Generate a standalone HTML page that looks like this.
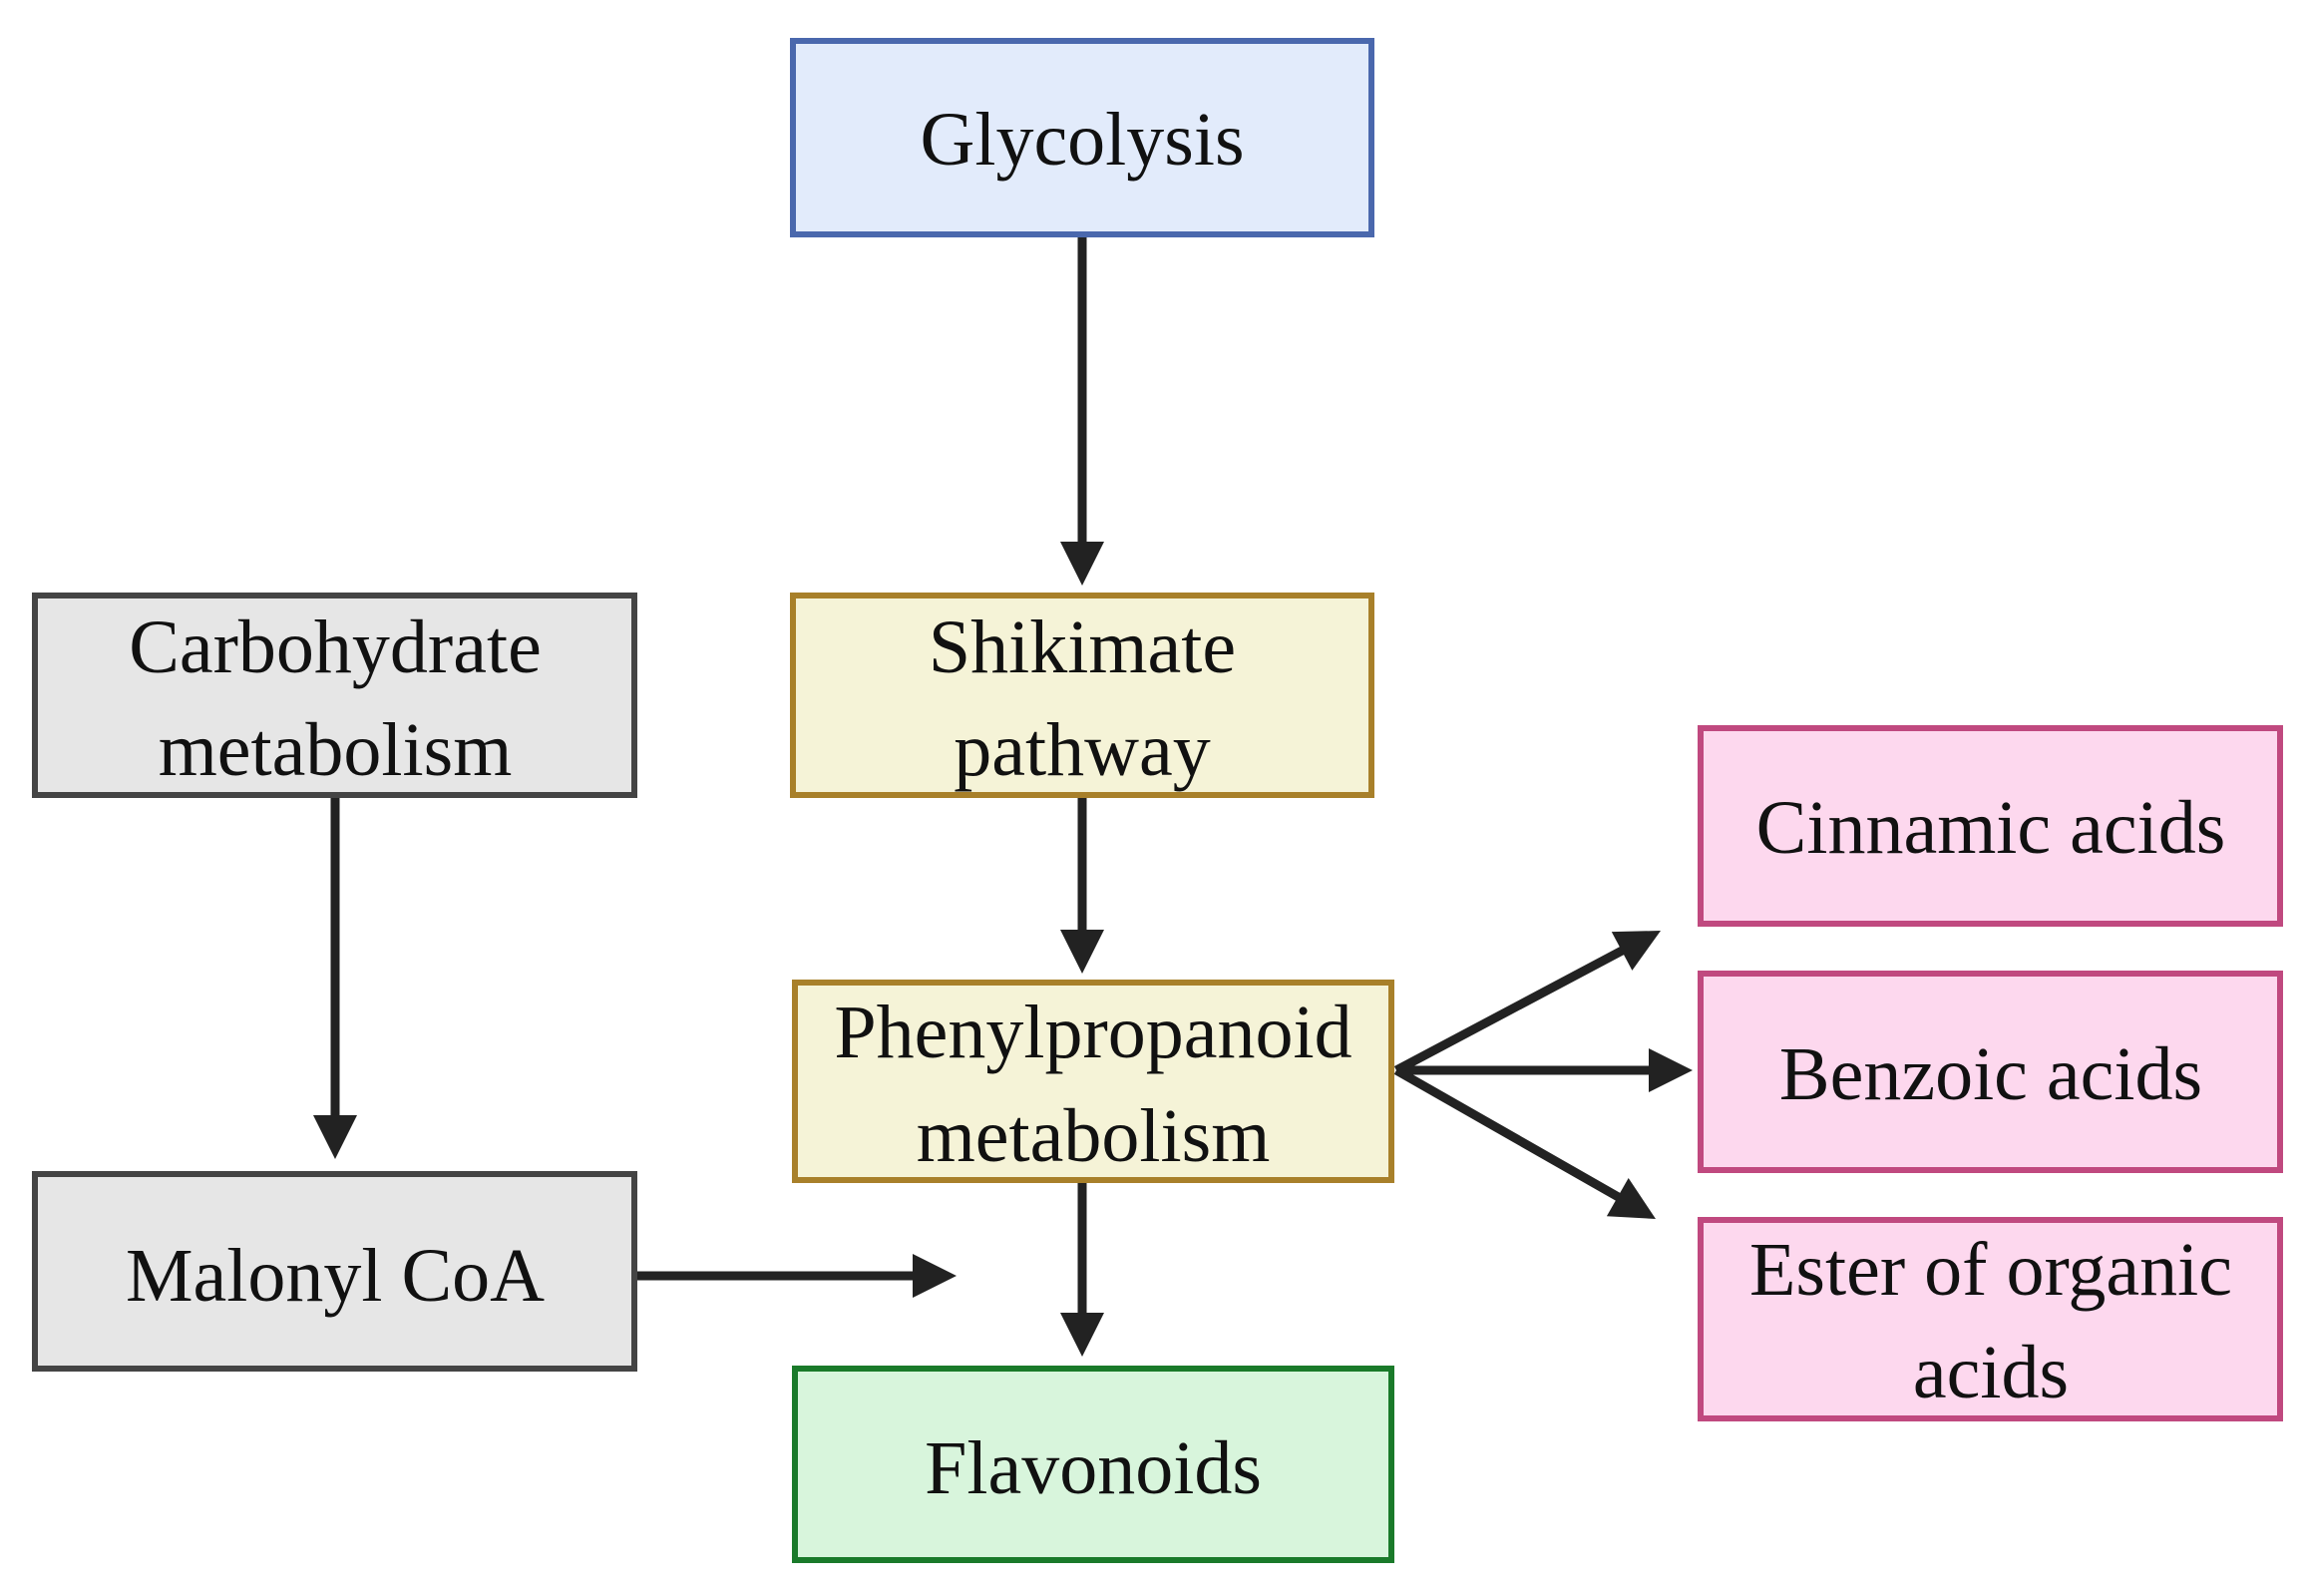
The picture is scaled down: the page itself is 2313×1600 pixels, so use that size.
<!DOCTYPE html>
<html><head><meta charset="utf-8"><style>
html,body{margin:0;padding:0;background:#fff;}
svg{display:block;}
text{font-family:"Liberation Serif",serif;font-size:76px;fill:#111;text-anchor:middle;}
</style></head><body>
<svg width="2313" height="1600" viewBox="0 0 2313 1600" xmlns="http://www.w3.org/2000/svg">
<g stroke-width="6">
<rect x="795" y="41" width="580" height="194" fill="#e2ebfb" stroke="#4a68ad"/>
<rect x="795" y="597" width="580" height="200" fill="#f5f3d7" stroke="#a8802a"/>
<rect x="35" y="597" width="601" height="200" fill="#e6e6e6" stroke="#444"/>
<rect x="797" y="985" width="598" height="198" fill="#f5f3d7" stroke="#a8802a"/>
<rect x="35" y="1177" width="601" height="195" fill="#e6e6e6" stroke="#444"/>
<rect x="797" y="1372" width="598" height="192" fill="#d8f5dc" stroke="#1a7a2a"/>
<rect x="1705" y="730" width="581" height="196" fill="#fdd8ee" stroke="#c0497f"/>
<rect x="1705" y="976" width="581" height="197" fill="#fdd8ee" stroke="#c0497f"/>
<rect x="1705" y="1223" width="581" height="199" fill="#fdd8ee" stroke="#c0497f"/>
</g>
<g stroke="#222" stroke-width="9" fill="none">
<line x1="1085" y1="238" x2="1085" y2="550"/>
<line x1="1085" y1="800" x2="1085" y2="940"/>
<line x1="336" y1="800" x2="336" y2="1125"/>
<line x1="1085" y1="1186" x2="1085" y2="1324"/>
<line x1="639" y1="1279" x2="922" y2="1279"/>
<line x1="1400" y1="1073" x2="1630" y2="951"/>
<line x1="1400" y1="1073" x2="1660" y2="1073"/>
<line x1="1400" y1="1073" x2="1626" y2="1202"/>
</g>
<g fill="#222">
<polygon points="1063,543 1107,543 1085,587"/>
<polygon points="1063,932 1107,932 1085,976"/>
<polygon points="314,1118 358,1118 336,1162"/>
<polygon points="1063,1316 1107,1316 1085,1360"/>
<polygon points="915,1257 915,1301 959,1279"/>
<polygon points="1653,1051 1653,1095 1697,1073"/>
<polygon points="1636.4,972.9 1615.8,934.1 1665,933"/>
<polygon points="1610.9,1219.2 1632.7,1181 1660,1222"/>
</g>
<text x="1085" y="165">Glycolysis</text>
<text x="336" y="674">Carbohydrate</text>
<text x="336" y="777">metabolism</text>
<text x="1085" y="674">Shikimate</text>
<text x="1085" y="777">pathway</text>
<text x="1096" y="1060">Phenylpropanoid</text>
<text x="1096" y="1164">metabolism</text>
<text x="336" y="1304">Malonyl CoA</text>
<text x="1096" y="1497">Flavonoids</text>
<text x="1996" y="855">Cinnamic acids</text>
<text x="1996" y="1102">Benzoic acids</text>
<text x="1996" y="1298">Ester of organic</text>
<text x="1996" y="1401">acids</text>
</svg>
</body></html>
